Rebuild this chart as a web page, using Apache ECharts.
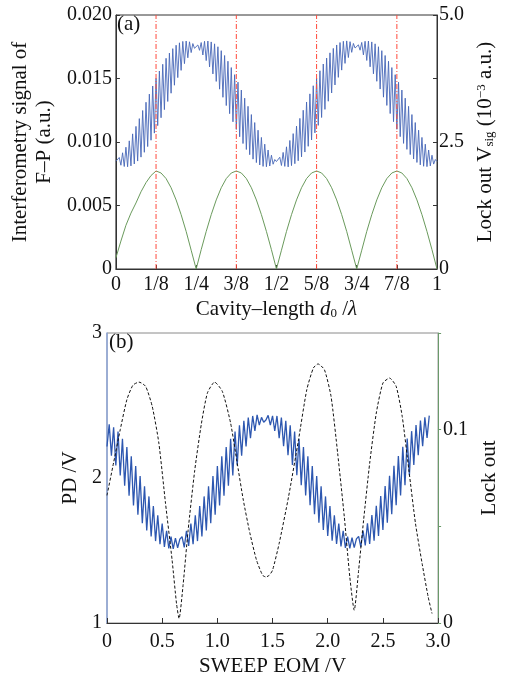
<!DOCTYPE html>
<html><head><meta charset="utf-8">
<script src="https://cdn.jsdelivr.net/npm/echarts@6/dist/echarts.min.js"></script>
<style>html,body{margin:0;padding:0;background:#fff}#c{width:508px;height:679px}</style>
</head><body><div id="c"></div><script>
// ---------- panel (a) ----------
const topTickLabels = ['0','1/8','1/4','3/8','1/2','5/8','3/4','7/8','1'];
const topLeftMax = 0.02;
const topRightMax = 5.0;
// F-P interferometry signal (units of 1e-3 a.u.), sampled uniformly over d0/lambda = 0..1
const topSignalMilli = [
8.48, 8.36, 8.78, 8.17, 9.15, 8.07, 9.59, 8.05, 10.09, 8.12,
10.64, 8.27, 11.23, 8.50, 11.84, 8.81, 12.48, 9.19, 13.13, 9.64,
13.77, 10.14, 14.41, 10.70, 15.01, 11.29, 15.59, 11.91, 16.12, 12.55,
16.59, 13.19, 17.00, 13.84, 17.35, 14.47, 17.62, 15.07, 17.81, 15.64,
17.92, 16.17, 17.95, 16.63, 17.89, 17.04, 17.75, 17.38, 17.52, 17.64,
17.22, 17.83, 16.85, 17.93, 16.41, 17.95, 15.91, 17.88, 15.36, 17.73,
14.77, 17.50, 14.16, 17.19, 13.52, 16.81, 12.87, 16.36, 12.23, 15.86,
11.59, 15.30, 10.99, 14.71, 10.41, 14.09, 9.88, 13.45, 9.41, 12.81,
9.00, 12.16, 8.65, 11.53, 8.38, 10.93, 8.19, 10.36, 8.08, 9.83,
8.05, 9.37, 8.11, 8.96, 8.25, 8.62,
8.46, 8.38, 8.80, 8.15, 9.18, 8.08, 9.62, 8.04, 10.12, 8.14,
10.66, 8.29, 11.25, 8.52, 11.86, 8.83, 12.50, 9.21, 13.15, 9.66,
13.79, 10.16, 14.43, 10.72, 15.03, 11.31, 15.61, 11.93, 16.14, 12.57,
16.61, 13.21, 17.02, 13.86, 17.37, 14.49, 17.64, 15.09, 17.83, 15.66,
17.93, 16.19, 17.96, 16.65, 17.90, 17.06, 17.76, 17.40, 17.53, 17.65,
17.23, 17.84, 16.86, 17.93, 16.42, 17.95, 15.92, 17.88, 15.37, 17.73,
14.78, 17.50, 14.17, 17.19, 13.53, 16.81, 12.88, 16.36, 12.24, 15.86,
11.60, 15.30, 11.00, 14.71, 10.42, 14.09, 9.89, 13.45, 9.42, 12.81,
9.01, 12.16, 8.66, 11.53, 8.39, 10.93, 8.20, 10.36, 8.09, 9.83,
8.06, 9.37, 8.12, 8.96, 8.26, 8.62,
8.47
];
// Lock-out V_sig (10^-3 a.u.), sampled every 1/64 of d0/lambda
const topLockOut = [
0.22, 0.55, 0.86, 1.10, 1.30, 1.52, 1.70, 1.84, 1.93, 1.89, 1.78, 1.60, 1.36, 1.07, 0.74, 0.37, 0.0,
0.38, 0.74, 1.07, 1.36, 1.60, 1.78, 1.89, 1.93, 1.89, 1.78, 1.60, 1.36, 1.07, 0.74, 0.38, 0.0,
0.37, 0.74, 1.07, 1.36, 1.60, 1.78, 1.89, 1.93, 1.89, 1.78, 1.60, 1.36, 1.07, 0.74, 0.37, 0.0,
0.37, 0.74, 1.07, 1.36, 1.60, 1.78, 1.89, 1.93, 1.89, 1.78, 1.60, 1.36, 1.07, 0.74, 0.38, 0.0
];
const markPositions = [0.125, 0.375, 0.625, 0.875];

// ---------- panel (b) ----------
const botStep = 0.02; // V between PD samples
const botPD = [
2.217, 2.37, 2.154, 2.35, 2.087, 2.321, 2.017, 2.271, 1.947, 2.213,
1.877, 2.150, 1.810, 2.083, 1.747, 2.013, 1.689, 1.943, 1.639, 1.873,
1.597, 1.806, 1.565, 1.743, 1.543, 1.686, 1.525, 1.636, 1.515, 1.595,
1.512, 1.585, 1.518, 1.578, 1.595, 1.521, 1.636, 1.532, 1.686, 1.543,
1.743, 1.565, 1.806, 1.597, 1.873, 1.639, 1.943, 1.689, 2.013, 1.747,
2.083, 1.810, 2.150, 1.877, 2.213, 1.947, 2.271, 2.017, 2.321, 2.087,
2.363, 2.154, 2.395, 2.217, 2.417, 2.274, 2.428, 2.324, 2.435, 2.365,
2.418, 2.385, 2.40, 2.432, 2.365, 2.429, 2.324, 2.428, 2.274, 2.417,
2.22, 2.395, 2.157, 2.363, 2.09, 2.321, 2.02, 2.271, 1.95, 2.213,
1.88, 2.150, 1.813, 2.083, 1.75, 2.013, 1.692, 1.943, 1.642, 1.873,
1.60, 1.806, 1.568, 1.743, 1.546, 1.686, 1.528, 1.636, 1.518, 1.595,
1.515, 1.588, 1.52, 1.58, 1.597, 1.524, 1.638, 1.535, 1.688, 1.546,
1.745, 1.568, 1.808, 1.60, 1.875, 1.642, 1.945, 1.692, 2.015, 1.75,
2.085, 1.813, 2.152, 1.88, 2.215, 1.95, 2.273, 2.02, 2.323, 2.09,
2.365, 2.157, 2.397, 2.22, 2.418, 2.277, 2.43
];
const lockX = [0,0.06,0.12,0.18,0.235,0.29,0.35,0.41,0.47,0.53,0.59,0.63,0.653,0.69,0.735,0.795,0.855,0.91,0.975,1.045,1.12,1.175,1.235,1.295,1.355,1.41,1.44,1.47,1.5,1.56,1.645,1.735,1.81,1.87,1.912,1.97,2.03,2.09,2.15,2.2,2.24,2.28,2.325,2.38,2.44,2.5,2.56,2.62,2.675,2.735,2.795,2.855,2.91,2.945];
const lockY = [0.066,0.083,0.100,0.1155,0.123,0.1246,0.1224,0.112,0.093,0.062,0.0325,0.010,0.0023,0.020,0.048,0.079,0.103,0.119,0.1246,0.1198,0.1034,0.0844,0.0636,0.0464,0.0325,0.0247,0.0238,0.0247,0.0273,0.0412,0.0653,0.0947,0.1206,0.1319,0.134,0.131,0.1172,0.0878,0.055,0.0238,0.0066,0.0273,0.0532,0.0826,0.1086,0.1241,0.1267,0.1224,0.1068,0.0792,0.0515,0.0308,0.0135,0.0049];

const F = 'Liberation Serif';
const TXT = '#111';
const RED = '#ff4a3c';
const chart = echarts.init(document.getElementById('c'));
const lbl = (extra) => Object.assign({fontFamily: F, fontSize: 21, color: TXT}, extra || {});
const richSub = {
  i: {fontFamily: F, fontSize: 21, fontStyle: 'italic', color: TXT},
  s: {fontFamily: F, fontSize: 13, color: TXT, verticalAlign: 'bottom', lineHeight: 12},
  p: {fontFamily: F, fontSize: 13, color: TXT, verticalAlign: 'top', lineHeight: 12}
};

const redSeries = markPositions.map(x => ({
  type: 'line', xAxisIndex: 0, yAxisIndex: 0, showSymbol: false, silent: true,
  data: [[x, 0], [x, topLeftMax]],
  lineStyle: {color: RED, type: [5, 2, 1, 2], width: 1},
  emphasis: {disabled: true}, z: 5
}));

chart.setOption({
  animation: false,
  backgroundColor: '#fff',
  grid: [
    {left: 114, top: 15, width: 323, height: 254, show: true, borderColor: '#333', borderWidth: 1},
    {left: 107, top: 333, width: 340, height: 290, show: true, borderColor: '#8a8a8a', borderWidth: 1}
  ],
  xAxis: [
    {gridIndex: 0, type: 'value', min: 0, max: 1, interval: 0.125,
     axisLine: {show: true, lineStyle: {color: '#333'}},
     axisTick: {show: true, inside: true, length: 4, lineStyle: {color: '#333'}},
     splitLine: {show: false},
     axisLabel: lbl({fontSize: 20, margin: 6, formatter: v => topTickLabels[Math.round(v / 0.125)]}),
     name: 'Cavity–length {i|d}{s|0} /{i|λ}', nameLocation: 'middle', nameGap: 30,
     nameTextStyle: lbl({rich: richSub})},
    {gridIndex: 1, type: 'value', min: 0, max: 3, interval: 0.5,
     axisLine: {show: true, lineStyle: {color: '#333'}},
     axisTick: {show: true, inside: true, length: 5, lineStyle: {color: '#333'}},
     splitLine: {show: false},
     axisLabel: lbl({fontSize: 20, margin: 9, formatter: v => v === 0 ? '0' : v.toFixed(1)}),
     name: 'SWEEP EOM /V', nameLocation: 'middle', nameGap: 33,
     nameTextStyle: lbl()}
  ],
  yAxis: [
    {gridIndex: 0, type: 'value', min: 0, max: topLeftMax, interval: 0.005,
     axisLine: {show: true, lineStyle: {color: '#333'}},
     axisTick: {show: true, inside: true, length: 4, lineStyle: {color: '#333'}},
     splitLine: {show: false},
     axisLabel: lbl({fontSize: 20, margin: 4, formatter: v => v === 0 ? '0' : v.toFixed(3)}),
     name: 'Interferometry signal of\nF–P (a.u.)', nameLocation: 'middle', nameRotate: 90, nameGap: 58,
     nameTextStyle: lbl({lineHeight: 24})},
    {gridIndex: 0, type: 'value', position: 'right', min: 0, max: topRightMax, interval: 1.25,
     axisLine: {show: true, lineStyle: {color: '#333'}},
     axisTick: {show: true, inside: true, length: 4, lineStyle: {color: '#333'}},
     splitLine: {show: false},
     axisLabel: lbl({fontSize: 20, margin: 2, formatter: v => v === 0 ? '0' : (v === 2.5 ? '2.5' : (v === 5 ? '5.0' : ''))}),
     name: 'Lock out V{s|sig} (10{p|−3} a.u.)', nameLocation: 'middle', nameRotate: 90, nameGap: 38,
     nameTextStyle: lbl({rich: richSub})},
    {gridIndex: 1, type: 'value', min: 1, max: 3, interval: 1,
     axisLine: {show: true, lineStyle: {color: '#8ea6d8', width: 1.5}},
     axisTick: {show: false},
     splitLine: {show: false},
     axisLabel: lbl({fontSize: 20, margin: 5}),
     name: 'PD /V', nameLocation: 'middle', nameRotate: 90, nameGap: 24,
     nameTextStyle: lbl()},
    {gridIndex: 1, type: 'value', position: 'right', min: 0, max: 0.15, interval: 0.05,
     axisLine: {show: true, lineStyle: {color: '#6a9a6a', width: 1}},
     axisTick: {show: true, inside: false, length: 3, lineStyle: {color: '#6a9a6a'}},
     splitLine: {show: false},
     axisLabel: lbl({fontSize: 20, margin: 5, formatter: v => v === 0 ? '0' : (Math.abs(v - 0.1) < 1e-9 ? '0.1' : '')}),
     name: 'Lock out', nameLocation: 'middle', nameRotate: 90, nameGap: 31,
     nameTextStyle: lbl()}
  ],
  graphic: [
    {type: 'text', left: 117, top: 14, style: {text: '(a)', font: '21px "Liberation Serif"', fill: TXT}},
    {type: 'text', left: 109, top: 332, style: {text: '(b)', font: '21px "Liberation Serif"', fill: TXT}}
  ],
  series: [
    {type: 'line', xAxisIndex: 0, yAxisIndex: 0, showSymbol: false, silent: true,
     data: topSignalMilli.map((v, k) => [k / (topSignalMilli.length - 1), v / 1000]),
     lineStyle: {color: '#4768b8', width: 0.9}},
    {type: 'line', xAxisIndex: 0, yAxisIndex: 1, showSymbol: false, silent: true,
     data: topLockOut.map((v, j) => [j / (topLockOut.length - 1), v]),
     lineStyle: {color: '#6a9a5c', width: 1}},
    ...redSeries,
    {type: 'line', xAxisIndex: 1, yAxisIndex: 2, showSymbol: false, silent: true,
     data: botPD.map((v, k) => [k * botStep, v]),
     lineStyle: {color: '#2d57b0', width: 1.3}},
    {type: 'line', xAxisIndex: 1, yAxisIndex: 3, showSymbol: false, silent: true, smooth: 0.2,
     data: lockX.map((x, i) => [x, lockY[i]]),
     lineStyle: {color: '#111', type: [3, 2], width: 1}}
  ]
});
</script></body></html>
